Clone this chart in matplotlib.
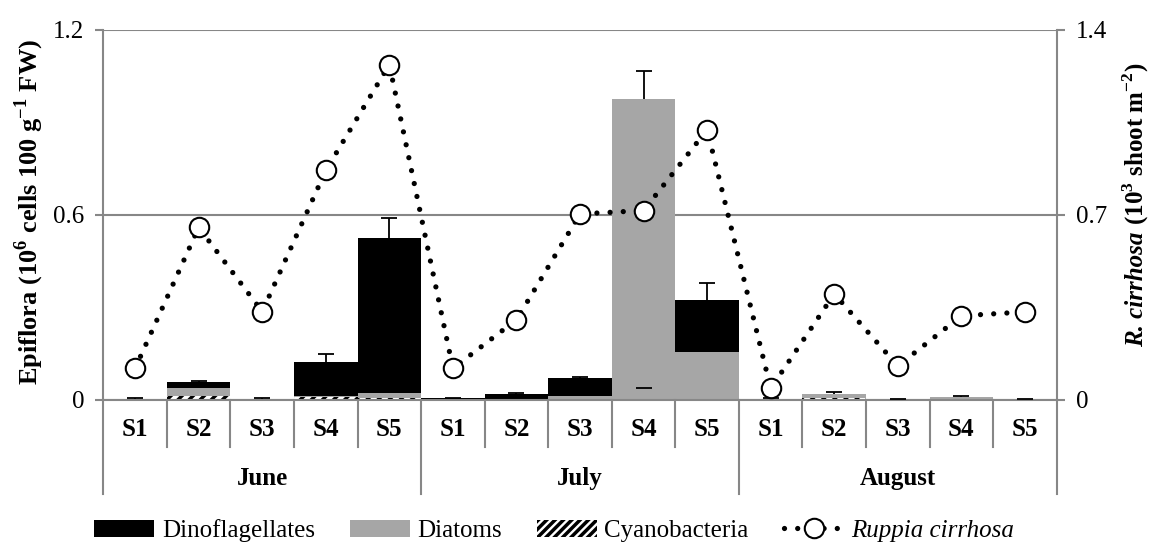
import numpy as np
import matplotlib
matplotlib.use('Agg')
import matplotlib.pyplot as plt
import matplotlib.transforms as mtransforms
from matplotlib.patches import Patch
from matplotlib.lines import Line2D

# categories
months = ['June', 'July', 'August']
sites = ['S1', 'S2', 'S3', 'S4', 'S5']

# epiflora (10^6 cells 100 g-1 FW), stacked bottom -> top
cyano = [0.001, 0.011, 0.001, 0.008, 0.004,
         0.0, 0.0, 0.0, 0.0, 0.0,
         0.0, 0.004, 0.0, 0.0, 0.0]
diatoms = [0.001, 0.025, 0.001, 0.003, 0.017,
           0.0, 0.0, 0.010, 0.976, 0.155,
           0.001, 0.014, 0.002, 0.007, 0.001]
dino = [0.001, 0.020, 0.001, 0.111, 0.505,
        0.004, 0.017, 0.061, 0.0, 0.169,
        0.002, 0.0, 0.0, 0.0, 0.001]
err_plus = [0.001, 0.005, 0.001, 0.026, 0.063,
            0.002, 0.003, 0.003, 0.090, 0.054,
            0.001, 0.005, 0.0, 0.003, 0.001]
# stray error cap showing through the July S4 bar
hidden_cap = [np.nan] * 8 + [0.036] + [np.nan] * 6

# Ruppia cirrhosa (10^3 shoot m-2)
ruppia = [0.118, 0.652, 0.333, 0.868, 1.269,
          0.118, 0.302, 0.703, 0.716, 1.022,
          0.042, 0.400, 0.127, 0.317, 0.332]

plt.rcParams['font.family'] = ['Liberation Serif', 'DejaVu Serif']
plt.rcParams['mathtext.fontset'] = 'custom'
plt.rcParams['mathtext.rm'] = 'Liberation Serif'
plt.rcParams['mathtext.bf'] = 'Liberation Serif:bold'
plt.rcParams['hatch.linewidth'] = 2.5

GRAY = '#878787'
DIA = '#a6a6a6'
FS = 18
dotted = (0, (0.001, 2.5))

fig = plt.figure(figsize=(11.52, 5.46), dpi=100)
ax = fig.add_axes([0.0897, 0.2683, 0.8276, 0.6768])

x = np.arange(len(ruppia))
cy = np.array(cyano)
di = np.array(diatoms)
dn = np.array(dino)

ax.bar(x, cy, width=1.0, color='white', hatch='///', edgecolor='black', linewidth=0, zorder=2)
ax.bar(x, di, width=1.0, bottom=cy, color=DIA, linewidth=0, zorder=2)
ax.bar(x, dn, width=1.0, bottom=cy + di, color='black', linewidth=0, zorder=2)

tops = cy + di + dn
eb = ax.errorbar(x, tops, yerr=[np.zeros(len(x)), err_plus], fmt='none', ecolor='black',
                 elinewidth=1.3, capsize=6, capthick=1.3, zorder=3)
eb[1][0].set_visible(False)
ax.plot(x, hidden_cap, ls='none', marker='_', ms=12, mew=1.3, color='black', zorder=3)

ax.set_xlim(-0.5, len(x) - 0.5)
ax.set_ylim(0, 1.2)
ax.set_yticks([0, 0.6, 1.2])
ax.set_yticklabels(['0', '0.6', '1.2'])
ax.set_xticks([])
ax.yaxis.grid(True, color=GRAY, lw=1.5)
ax.set_axisbelow(True)
ax.tick_params(axis='y', direction='out', length=5.8, width=1.5, color=GRAY, labelsize=FS, pad=8)
for s in ['top', 'right']:
    ax.spines[s].set_visible(False)
for s in ['left', 'bottom']:
    ax.spines[s].set_color(GRAY)
    ax.spines[s].set_linewidth(1.5)

# category axis: sites and months
trans = mtransforms.blended_transform_factory(ax.transData, ax.transAxes)
for i in range(len(x) + 1):
    depth = -0.255 if i % len(sites) == 0 else -0.128
    ax.plot([i - 0.5, i - 0.5], [0, depth], transform=trans, color=GRAY, lw=1.5, clip_on=False)
for i in range(len(x)):
    ax.text(i, -0.0825, sites[i % len(sites)], transform=trans, ha='center', va='center',
            fontsize=FS, fontweight='bold')
for m, month in enumerate(months):
    ax.text(m * len(sites) + (len(sites) - 1) / 2, -0.2125, month, transform=trans,
            ha='center', va='center', fontsize=FS, fontweight='bold')

ax2 = ax.twinx()
ax2.plot(x, ruppia, color='black', ls=dotted, lw=3.8, dash_capstyle='round',
         marker='o', ms=14, mfc='white', mec='black', mew=1.5, zorder=4)
ax2.set_ylim(0, 1.4)
ax2.set_yticks([0, 0.7, 1.4])
ax2.set_yticklabels(['0', '0.7', '1.4'])
ax2.tick_params(axis='y', direction='out', length=5.8, width=1.5, color=GRAY, labelsize=FS, pad=8)
for s in ['top', 'left', 'bottom']:
    ax2.spines[s].set_visible(False)
ax2.spines['right'].set_color(GRAY)
ax2.spines['right'].set_linewidth(1.5)

fig.text(0.025, 0.612, r'Epiflora (10$^{\mathbf{6}}$ cells 100 g$^{\mathbf{-1}}$ FW)',
         rotation=90, ha='center', va='center', fontsize=19, fontweight='bold')

# right label: italic species name followed by the unit, joined on one baseline
rx, ry = 0.9925, 0.365
t1 = fig.text(rx, ry, 'R. cirrhosa', rotation=90, rotation_mode='anchor', ha='left',
              va='baseline', fontsize=FS, fontweight='bold', fontstyle='italic')
fig.canvas.draw()
bb = t1.get_window_extent()
fig.text(rx, ry + bb.height / fig.bbox.height,
         r' (10$^{\mathbf{3}}$ shoot m$^{\mathbf{-2}}$)', rotation=90, rotation_mode='anchor',
         ha='left', va='baseline', fontsize=FS, fontweight='bold')

handles = [Patch(facecolor='black'),
           Patch(facecolor=DIA),
           Patch(facecolor='white', hatch='////', edgecolor='black', linewidth=0),
           Line2D([], [], color='black', ls=dotted, lw=3.8, dash_capstyle='round',
                  marker='o', ms=14, mfc='white', mec='black', mew=1.5)]
labels = ['Dinoflagellates', 'Diatoms', 'Cyanobacteria', 'Ruppia cirrhosa']
leg = fig.legend(handles, labels, loc='center', bbox_to_anchor=(0.481, 0.028), ncol=4,
                 frameon=False, fontsize=FS, handlelength=2.4, handletextpad=0.3,
                 columnspacing=1.4)
leg.get_texts()[3].set_style('italic')

fig.savefig('out.png', dpi=100)
